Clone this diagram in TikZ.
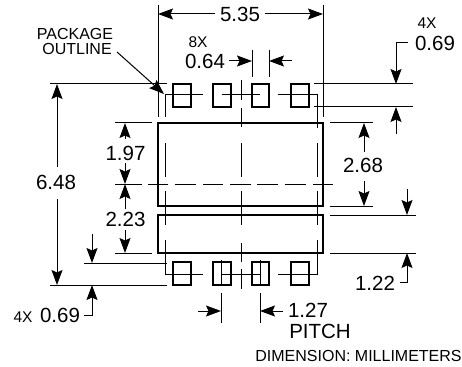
\documentclass[tikz,border=0pt]{standalone}
\usepackage{fontspec}
\setmainfont{Liberation Sans}
\usetikzlibrary{arrows.meta}
\tikzset{
  dimarrow/.style={line width=1pt,-{Stealth[length=15pt,width=11pt,inset=2.5pt]}},
  dimline/.style={line width=1pt},
  thinline/.style={line width=1pt},
  bodyline/.style={line width=1.5pt},
  bigtext/.style={inner sep=0pt,font=\fontsize{20.5}{20.5}\selectfont},
  midtext/.style={inner sep=0pt,font=\fontsize{15.5}{15.5}\selectfont},
  smalltext/.style={inner sep=0pt,font=\fontsize{16}{16}\selectfont}
}
\begin{document}
\begin{tikzpicture}[x=1pt,y=-1pt]
      \useasboundingbox (0,0) rectangle (462,366);
      \draw[bodyline] (158,123) rectangle (323,206);
      \draw[bodyline] (158,215) rectangle (323,253);
      \draw[bodyline] (173,84) rectangle (191,107);
      \draw[bodyline] (213,84) rectangle (231,107);
      \draw[bodyline] (252,84) rectangle (269,107);
      \draw[bodyline] (291,84) rectangle (309,107);
      \draw[bodyline] (173,262) rectangle (191,285);
      \draw[bodyline] (213,262) rectangle (231,285);
      \draw[bodyline] (252,262) rectangle (269,285);
      \draw[bodyline] (291,262) rectangle (309,285);
      \draw[thinline] (203,95) -- (165,95) -- (165,117);
      \draw[thinline] (165,143) -- (165,177);
      \draw[thinline] (165,191) -- (165,225);
      \draw[thinline] (165,240) -- (165,274) -- (203,274);
      \draw[thinline] (278,95) -- (317,95) -- (317,128);
      \draw[thinline] (317,143) -- (317,177);
      \draw[thinline] (317,191) -- (317,225);
      \draw[thinline] (317,240) -- (317,274) -- (278,274);
      \draw[thinline] (222,95) -- (260,95);
      \draw[thinline] (222,274) -- (260,274);
      \draw[thinline] (241,80) -- (241,100);
      \draw[thinline] (241,108) -- (241,127);
      \draw[thinline] (241,143) -- (241,177);
      \draw[thinline] (241,191) -- (241,225);
      \draw[thinline] (241,243) -- (241,262);
      \draw[thinline] (241,269) -- (241,289);
      \draw[thinline] (115,184) -- (142,184);
      \draw[thinline] (148,184) -- (168,184);
      \draw[thinline] (175,184) -- (196,184);
      \draw[thinline] (203,184) -- (223,184);
      \draw[thinline] (230,184) -- (251,184);
      \draw[thinline] (257,184) -- (278,184);
      \draw[thinline] (285,184) -- (306,184);
      \draw[thinline] (313,184) -- (333,184);
      \draw[dimline] (158,5) -- (158,117);
      \draw[dimline] (323,5) -- (323,117);
      \draw[dimline] (252,50) -- (252,77);
      \draw[dimline] (269,50) -- (269,77);
      \draw[dimline] (50,84) -- (167,84);
      \draw[dimline] (50,285) -- (167,285);
      \draw[dimline] (84,263) -- (167,263);
      \draw[dimline] (115,123) -- (152,123);
      \draw[dimline] (115,253) -- (152,253);
      \draw[dimline] (314,84) -- (413,84);
      \draw[dimline] (314,107) -- (413,107);
      \draw[dimline] (330,123) -- (373,123);
      \draw[dimline] (330,206) -- (373,206);
      \draw[dimline] (330,215) -- (416,215);
      \draw[dimline] (330,253) -- (416,253);
      \draw[dimline] (221,260) -- (221,284);
      \draw[dimline] (221,293) -- (221,323);
      \draw[dimline] (260,260) -- (260,284);
      \draw[dimline] (260,293) -- (260,323);
      \node[bigtext] (width) at (240,14) {5.35};
      \node[bigtext] (padw) at (205,61) {0.64};
      \node[midtext] (padwn) at (198,42) {8X};
      \node[bigtext] (height) at (56,182) {6.48};
      \node[bigtext] (upper) at (125.5,153) {1.97};
      \node[bigtext] (lower) at (125.5,219) {2.23};
      \node[bigtext] (gap) at (363,165) {2.68};
      \node[bigtext] (padh) at (435,43) {0.69};
      \node[midtext] (padhn) at (427,23) {4X};
      \node[bigtext] (body) at (375,283) {1.22};
      \node[bigtext] (pitch) at (308,310) {1.27};
      \node[bigtext] (pitchlbl) at (320,331) {PITCH};
      \node[bigtext] (padl) at (60,315) {0.69};
      \node[midtext] (padln) at (23,317) {4X};
      \node[smalltext] (pkg) at (75,34) {PACKAGE};
      \node[smalltext] (outl) at (77,49) {OUTLINE};
      \node[smalltext] (units) at (358.5,356) {DIMENSION: MILLIMETERS};
      \draw[dimarrow] (215,14) -- (158,14);
      \draw[dimarrow] (265,14) -- (323,14);
      \draw[dimarrow] (229,61) -- (252,61);
      \draw[dimarrow] (292,61) -- (269,61);
      \draw[dimarrow] (57,167) -- (57,84);
      \draw[dimarrow] (57,199) -- (57,285);
      \draw[dimarrow] (125,139) -- (125,123);
      \draw[dimarrow] (125,163) -- (125,184);
      \draw[dimarrow] (125,209) -- (125,184);
      \draw[dimarrow] (125,230) -- (125,253);
      \draw[dimarrow] (364,152) -- (364,123);
      \draw[dimarrow] (364,181) -- (364,206);
      \draw[dimarrow] (408,43) -- (396,43) -- (396,84);
      \draw[dimarrow] (396,134) -- (396,107);
      \draw[dimarrow] (407,189) -- (407,215);
      \draw[dimarrow] (400,282) -- (407,282) -- (407,253);
      \draw[dimarrow] (92,234) -- (92,263);
      \draw[dimarrow] (84,315) -- (92,315) -- (92,285);
      \draw[dimarrow] (198,311) -- (221,311);
      \draw[dimarrow] (283,311) -- (260,311);
      \draw[dimarrow] (117,52) -- (164,94);
\end{tikzpicture}
\end{document}
